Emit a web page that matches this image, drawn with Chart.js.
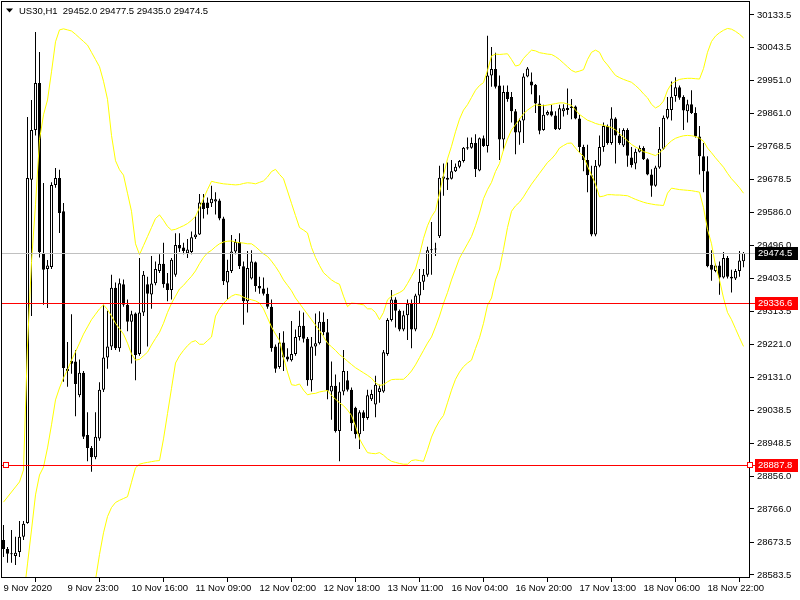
<!DOCTYPE html>
<html>
<head>
<meta charset="utf-8">
<script src="https://cdn.jsdelivr.net/npm/chart.js@4/dist/chart.umd.min.js"></script>
<style>
  html, body { margin: 0; padding: 0; background: #fff; }
  canvas { display: block; }
</style>
</head>
<body>
<canvas id="chart" width="800" height="600"></canvas>
<script>
// US30 H1 candles (one entry per bar)
const openP = [
  28680, 28655, 28643, 28636, 28647, 28689, 28727, 29677, 29815, 29945,
  29472, 29430, 29436, 29663, 29682, 29590, 29154, 29176, 29174, 29081,
  29143, 28971, 28935, 28909, 28961, 29096, 29185, 29216, 29378, 29211,
  29388, 29331, 29284, 29307, 29195, 29310, 29388, 29360, 29391, 29425,
  29445, 29391, 29372, 29414, 29497, 29490, 29474, 29477, 29518, 29526,
  29614, 29614, 29612, 29617, 29620, 29570, 29393, 29425, 29479, 29505,
  29438, 29341, 29404, 29449, 29383, 29376, 29362, 29326, 29216, 29159,
  29227, 29188, 29178, 29195, 29242, 29273, 29237, 29122, 29216, 29225,
  29284, 29255, 29091, 29107, 28982, 29091, 29122, 29096, 29046, 28973,
  29034, 29018, 29070, 29055, 29090, 29091, 29195, 29289, 29346, 29315,
  29263, 29302, 29334, 29263, 29357, 29395, 29414, 29482, 29484, 29521,
  29680, 29683, 29680, 29701, 29713, 29729, 29764, 29766, 29779, 29703,
  29792, 29771, 29966, 29984, 29938, 29789, 29921, 29906, 29867, 29808,
  29841, 29963, 29949, 29940, 29888, 29815, 29857, 29867, 29855, 29817,
  29867, 29870, 29876, 29880, 29847, 29768, 29732, 29690, 29526, 29716,
  29768, 29826, 29779, 29847, 29800, 29772, 29815, 29739, 29722, 29755,
  29765, 29734, 29692, 29661, 29711, 29763, 29849, 29870, 29909, 29933,
  29906, 29867, 29886, 29862, 29797, 29742, 29701, 29442, 29425, 29440,
  29407, 29461, 29409, 29404, 29425, 29452
];
const highP = [
  28722, 28661, 28708, 28689, 28733, 28733, 29851, 29898, 30086, 30031,
  29668, 29455, 29670, 29710, 29705, 29613, 29228, 29305, 29206, 29180,
  29148, 29034, 28940, 29034, 29117, 29331, 29315, 29414, 29393, 29404,
  29401, 29346, 29315, 29310, 29461, 29425, 29409, 29466, 29451, 29471,
  29503, 29419, 29461, 29529, 29529, 29503, 29513, 29534, 29576, 29638,
  29638, 29628, 29661, 29643, 29625, 29575, 29456, 29524, 29513, 29529,
  29451, 29480, 29482, 29451, 29409, 29407, 29378, 29346, 29221, 29253,
  29258, 29211, 29286, 29263, 29315, 29310, 29242, 29242, 29307, 29313,
  29310, 29292, 29174, 29138, 29117, 29206, 29148, 29102, 29049, 29039,
  29039, 29096, 29096, 29135, 29110, 29206, 29294, 29372, 29352, 29318,
  29315, 29346, 29346, 29362, 29430, 29430, 29492, 29560, 29503, 29716,
  29722, 29725, 29732, 29722, 29732, 29768, 29794, 29794, 29803, 29794,
  29800, 30076, 30045, 30029, 29966, 29938, 29938, 29920, 29873, 29847,
  29972, 29989, 29974, 29942, 29911, 29885, 29869, 29885, 29867, 29885,
  29886, 29930, 29901, 29883, 29857, 29774, 29774, 29716, 29732, 29800,
  29836, 29830, 29878, 29850, 29820, 29820, 29820, 29768, 29763, 29772,
  29770, 29737, 29706, 29716, 29823, 29855, 29906, 29949, 29961, 29938,
  29911, 29899, 29925, 29878, 29826, 29779, 29742, 29482, 29445, 29451,
  29477, 29466, 29428, 29430, 29480, 29477.5
];
const lowP = [
  28633, 28617, 28617, 28611, 28633, 28680, 28725, 29300, 29800, 29462,
  29331, 29322, 29430, 29655, 29530, 29118, 29104, 29140, 29023, 29075,
  28960, 28898, 28869, 28904, 28955, 29090, 29154, 29206, 29206, 29201,
  29326, 29258, 29169, 29122, 29190, 29300, 29216, 29320, 29385, 29419,
  29378, 29341, 29346, 29409, 29477, 29471, 29461, 29471, 29513, 29524,
  29570, 29581, 29602, 29581, 29565, 29386, 29346, 29419, 29471, 29430,
  29276, 29310, 29401, 29367, 29362, 29357, 29320, 29201, 29143, 29154,
  29148, 29174, 29174, 29190, 29232, 29227, 29107, 29091, 29190, 29221,
  29247, 29070, 29013, 28978, 28898, 29081, 29091, 28982, 28961, 28932,
  28982, 29013, 29065, 29020, 29060, 29088, 29190, 29285, 29268, 29258,
  29258, 29234, 29211, 29258, 29336, 29372, 29409, 29414, 29466, 29516,
  29633, 29649, 29678, 29699, 29709, 29725, 29760, 29763, 29685, 29701,
  29768, 29753, 29935, 29930, 29732, 29758, 29893, 29836, 29748, 29774,
  29779, 29961, 29914, 29862, 29803, 29813, 29855, 29852, 29815, 29815,
  29852, 29857, 29845, 29845, 29753, 29701, 29643, 29521, 29521, 29712,
  29755, 29774, 29774, 29722, 29774, 29768, 29713, 29711, 29706, 29753,
  29732, 29690, 29630, 29658, 29708, 29760, 29845, 29841, 29893, 29899,
  29815, 29836, 29859, 29794, 29692, 29643, 29435, 29398, 29421, 29359,
  29404, 29404, 29365, 29400, 29409, 29435
];
const closeP = [
  28655, 28642, 28641, 28645, 28689, 28725, 29682, 29815, 29945, 29477,
  29428, 29440, 29663, 29682, 29585, 29156, 29148, 29168, 29112, 29143,
  28966, 28935, 28909, 28966, 29096, 29185, 29216, 29378, 29211, 29391,
  29331, 29284, 29305, 29192, 29310, 29414, 29362, 29390, 29430, 29445,
  29388, 29372, 29456, 29497, 29487, 29480, 29484, 29518, 29526, 29614,
  29596, 29599, 29625, 29623, 29570, 29396, 29425, 29479, 29505, 29438,
  29341, 29433, 29451, 29383, 29376, 29362, 29326, 29211, 29154, 29227,
  29185, 29180, 29195, 29242, 29273, 29237, 29122, 29216, 29225, 29284,
  29255, 29093, 29107, 28982, 29091, 29148, 29096, 29003, 28973, 29034,
  29018, 29081, 29084, 29110, 29100, 29200, 29289, 29346, 29315, 29263,
  29302, 29334, 29263, 29357, 29395, 29414, 29482, 29484, 29485, 29683,
  29686, 29677, 29701, 29713, 29729, 29766, 29767, 29779, 29706, 29792,
  29771, 29966, 29984, 29935, 29789, 29920, 29901, 29867, 29808, 29841,
  29963, 29985, 29938, 29888, 29813, 29857, 29865, 29855, 29817, 29875,
  29875, 29876, 29880, 29847, 29768, 29732, 29690, 29526, 29716, 29768,
  29826, 29779, 29847, 29800, 29779, 29815, 29744, 29718, 29755, 29765,
  29734, 29692, 29661, 29711, 29763, 29849, 29873, 29907, 29933, 29904,
  29869, 29886, 29862, 29797, 29742, 29701, 29438, 29428, 29440, 29407,
  29461, 29409, 29404, 29425, 29454, 29474.5
];

// Bollinger bands as seen on the picture (null = off the chart)
const bandUpper = [
  28785, 28799, 28813, 28827, 28841, 28874, 29220, 29450, 29608, 29788,
  29857, 29898, 29976, 30059, 30092, 30095, 30092, 30089, 30080, 30070,
  30060, 30050, 30030, 30010, 29990, 29950, 29900, 29800, 29730, 29705,
  29690, 29640, 29590, 29500, 29470, 29495, 29520, 29545, 29570, 29580,
  29565, 29548, 29538, 29540, 29545, 29550, 29556, 29565, 29576, 29600,
  29625, 29650, 29673, 29670, 29668, 29666, 29665, 29664, 29663, 29664,
  29667, 29669, 29668, 29666, 29670, 29674, 29685, 29700, 29706, 29692,
  29680, 29646, 29612, 29578, 29545, 29538, 29530, 29490, 29462, 29440,
  29420, 29410, 29400, 29393, 29388, 29355, 29326, 29336, 29335, 29333,
  29331, 29320, 29320, 29310, 29290, 29310, 29345, 29355, 29360, 29365,
  29372, 29390, 29410, 29430, 29470, 29515, 29550, 29575, 29592, 29640,
  29690, 29735, 29770, 29810, 29845, 29870, 29885, 29905, 29925, 29938,
  29946, 29980, 30020, 30025, 30024, 30025, 30026, 30010, 29992, 29995,
  30013, 30025, 30036, 30034, 30029, 30027, 30025, 30024, 30018, 30010,
  30000, 29990, 29980, 29975, 29978, 29982, 30010, 30030, 30036, 30030,
  30008, 29995, 29980, 29966, 29960, 29955, 29951, 29947, 29938, 29928,
  29915, 29904, 29886, 29876, 29882, 29895, 29925, 29943, 29950, 29955,
  29957, 29958, 29958, 29957, 29956, 29985, 30030, 30060, 30075, 30084,
  30091, 30096, 30094, 30088, 30080, 30070
];
const bandMiddle = [
  null, null, null, null, null, 28520, 28614, 28708, 28805, 28860,
  28882, 28935, 28999, 29068, 29101, 29129, 29151, 29178, 29201, 29225,
  29250, 29270, 29290, 29305, 29320, 29331, 29318, 29300, 29280, 29265,
  29250, 29225, 29195, 29178, 29180, 29190, 29200, 29220, 29238, 29255,
  29280, 29310, 29335, 29355, 29375, 29385, 29398, 29410, 29425, 29445,
  29462, 29475, 29482, 29492, 29500, 29505, 29507, 29508, 29505, 29503,
  29502, 29500, 29500, 29492, 29482, 29472, 29465, 29452, 29437, 29420,
  29400, 29385, 29370, 29350, 29335, 29320, 29305, 29290, 29275, 29260,
  29243, 29225, 29215, 29205, 29193, 29185, 29175, 29166, 29157, 29150,
  29143, 29136, 29128, 29115, 29108, 29110, 29118, 29124, 29125, 29125,
  29125, 29135, 29148, 29165, 29185, 29205, 29225, 29242, 29270, 29300,
  29335, 29365, 29400, 29430, 29460, 29480, 29500, 29520, 29550, 29585,
  29625, 29650, 29670, 29700, 29722, 29760, 29790, 29815, 29830, 29845,
  29860, 29870, 29878, 29885, 29883, 29882, 29884, 29886, 29888, 29890,
  29890, 29887, 29883, 29870, 29858, 29850, 29842, 29838, 29833, 29830,
  29828, 29825, 29822, 29815, 29805, 29795, 29785, 29775, 29768, 29762,
  29755, 29752, 29748, 29744, 29752, 29762, 29775, 29785, 29792, 29796,
  29799, 29800, 29799, 29797, 29792, 29784, 29765, 29752, 29738, 29725,
  29712, 29695, 29680, 29668, 29655, 29640
];
const bandLower = [
  null, null, null, null, null, null, null, null, null, null,
  null, null, null, null, null, null, null, null, null, null,
  null, null, 28530, 28570, 28640, 28700, 28745, 28770, 28784, 28790,
  28795, 28800, 28840, 28880, 28890, 28893, 28895, 28897, 28899, 28900,
  28960, 29030, 29100, 29170, 29190, 29205, 29218, 29228, 29232, 29222,
  29222, 29232, 29242, 29300, 29320, 29335, 29346, 29355, 29360, 29358,
  29352, 29348, 29345, 29342, 29336, 29320, 29295, 29270, 29250, 29232,
  29185, 29145, 29110, 29108, 29112, 29095, 29082, 29085, 29086, 29090,
  29092, 29094, 29080, 29070, 29060, 29052, 29040, 29025, 28995, 28960,
  28940, 28922, 28920, 28919, 28922, 28915, 28905, 28898, 28895, 28892,
  28890, 28890, 28900, 28902, 28900, 28898, 28930, 28965, 28990, 29010,
  29025, 29060, 29095, 29125, 29145, 29160, 29170, 29178, 29210, 29240,
  29280, 29330, 29350, 29400, 29430, 29485, 29545, 29590, 29605, 29615,
  29630, 29648, 29665, 29680, 29695, 29710, 29725, 29735, 29748, 29765,
  29772, 29778, 29779, 29765, 29752, 29742, 29715, 29690, 29665, 29630,
  29632, 29636, 29636, 29635, 29635, 29634, 29633, 29628, 29623, 29619,
  29615, 29612, 29610, 29608, 29607, 29606, 29640, 29654, 29652, 29650,
  29649, 29648, 29647, 29645, 29643, 29600, 29540, 29500, 29440, 29400,
  29350, 29310, 29290, 29265, 29240, 29216
];

// axis labels
const xTicks = [0, 16, 32, 48, 64, 80, 96, 112, 128, 144, 160, 176];
const xTickLabels = ['9 Nov 2020', '9 Nov 23:00', '10 Nov 16:00', '11 Nov 09:00', '12 Nov 02:00', '12 Nov 18:00',
  '13 Nov 11:00', '16 Nov 04:00', '16 Nov 20:00', '17 Nov 13:00', '18 Nov 06:00', '18 Nov 22:00'];
const yTicks = [30133.5, 30043.5, 29951.0, 29861.0, 29768.5, 29678.5, 29586.0, 29496.0, 29403.5,
  29313.5, 29221.0, 29131.0, 29038.5, 28948.5, 28856.0, 28766.0, 28673.5, 28583.5];

const bidPrice = 29474.5;
const redLines = [29336.6, 28887.8];
const headerText = 'US30,H1  29452.0 29477.5 29435.0 29474.5';

const FONT = '9.5px "Liberation Sans", Arial, sans-serif';
Chart.defaults.font.family = '"Liberation Sans", Arial, sans-serif';
Chart.defaults.font.size = 9.5;
Chart.defaults.color = '#000';

const wicks = highP.map((h, i) => ({ x: i, y: [lowP[i], h] }));
const bodies = openP.map((o, i) => ({ x: i, y: [Math.min(o, closeP[i]), Math.max(o, closeP[i])] }));
const bodyFill = openP.map((o, i) => closeP[i] >= o ? '#ffffff' : '#000000');
const toPts = arr => arr.map((v, i) => ({ x: i, y: v }));

function bandSet(data) {
  return {
    type: 'line', data: toPts(data), order: 0,
    borderColor: '#ffff00', borderWidth: 1, pointRadius: 0, tension: 0, fill: false
  };
}

function hLine(ctx, a, py, colour) {
  ctx.beginPath();
  ctx.strokeStyle = colour;
  ctx.lineWidth = 1;
  ctx.moveTo(a.left, py);
  ctx.lineTo(a.right + 5, py);
  ctx.stroke();
}

// lines, price boxes, frame and header
const overlay = {
  id: 'overlay',
  afterDatasetsDraw(chart) {
    const { ctx, chartArea: a, scales: { y } } = chart;
    ctx.save();
    hLine(ctx, a, Math.round(y.getPixelForValue(bidPrice)) + 0.5, '#c0c0c0');
    redLines.forEach(v => hLine(ctx, a, Math.round(y.getPixelForValue(v)) + 0.5, '#ff0000'));
    ctx.restore();
  },
  afterDraw(chart) {
    const { ctx, chartArea: a, scales: { y } } = chart;
    ctx.save();
    ctx.lineWidth = 1;
    ctx.strokeStyle = '#000';
    ctx.strokeRect(a.left + 0.5, a.top + 0.5, a.right - a.left - 1, a.bottom - a.top - 1);

    // anchor squares on the lower red line
    const ly = Math.round(y.getPixelForValue(redLines[1]));
    [a.left + 2, a.right - 3].forEach(sx => {
      ctx.fillStyle = '#ffffff';
      ctx.fillRect(sx, ly - 2, 5, 5);
      ctx.strokeStyle = '#ff0000';
      ctx.strokeRect(sx + 0.5, ly - 2.5, 5, 5);
    });

    // price boxes on the axis
    ctx.font = FONT;
    ctx.textBaseline = 'middle';
    ctx.textAlign = 'left';
    const boxes = [[bidPrice, '#000000'], [redLines[0], '#ff0000'], [redLines[1], '#ff0000']];
    boxes.forEach(([v, col]) => {
      const by = Math.round(y.getPixelForValue(v));
      ctx.fillStyle = col;
      ctx.fillRect(a.right + 5, by - 6, 43, 13);
      ctx.fillStyle = '#ffffff';
      ctx.fillText(v.toFixed(1), a.right + 8, by + 0.5);
    });

    // header
    ctx.fillStyle = '#000';
    ctx.beginPath();
    ctx.moveTo(6, 8.5); ctx.lineTo(13, 8.5); ctx.lineTo(9.5, 12.5); ctx.closePath();
    ctx.fill();
    ctx.textBaseline = 'alphabetic';
    ctx.fillText(headerText, 19, 14);
    ctx.restore();
  }
};

new Chart(document.getElementById('chart'), {
  type: 'bar',
  data: {
    datasets: [
      bandSet(bandUpper),
      bandSet(bandMiddle),
      bandSet(bandLower),
      {
        data: bodies, order: 1, grouped: false, barThickness: 3, minBarLength: 1,
        backgroundColor: bodyFill, borderColor: '#000', borderWidth: 1,
        borderSkipped: false, inflateAmount: 0
      },
      {
        data: wicks, order: 2, grouped: false, barThickness: 1,
        backgroundColor: '#000', borderWidth: 0, inflateAmount: 0
      }
    ]
  },
  options: {
    responsive: false,
    animation: false,
    devicePixelRatio: 1,
    layout: { padding: { left: 1, top: 1, right: 0, bottom: 0 } },
    plugins: { legend: { display: false }, tooltip: { enabled: false } },
    scales: {
      x: {
        type: 'linear', offset: false,
        min: -0.625, max: 186.625,
        afterBuildTicks: s => { s.ticks = xTicks.map(v => ({ value: v })); },
        afterFit: s => { s.height = 22; s.paddingLeft = 0; s.paddingRight = 0; },
        border: { display: false },
        grid: { drawOnChartArea: false, drawTicks: true, tickLength: 4, color: '#000' },
        ticks: {
          autoSkip: false, maxRotation: 0, align: 'start', padding: 1,
          callback: v => xTickLabels[xTicks.indexOf(v)] ?? ''
        }
      },
      y: {
        type: 'linear', position: 'right',
        min: 28575, max: 30172,
        afterBuildTicks: s => { s.ticks = yTicks.map(v => ({ value: v })); },
        afterFit: s => { s.width = 50; s.paddingTop = 0; s.paddingBottom = 0; },
        border: { display: false },
        grid: { drawOnChartArea: false, drawTicks: true, tickLength: 4, color: '#000' },
        ticks: { padding: 3, callback: v => v.toFixed(1) }
      }
    }
  },
  plugins: [overlay]
});
</script>
</body>
</html>
